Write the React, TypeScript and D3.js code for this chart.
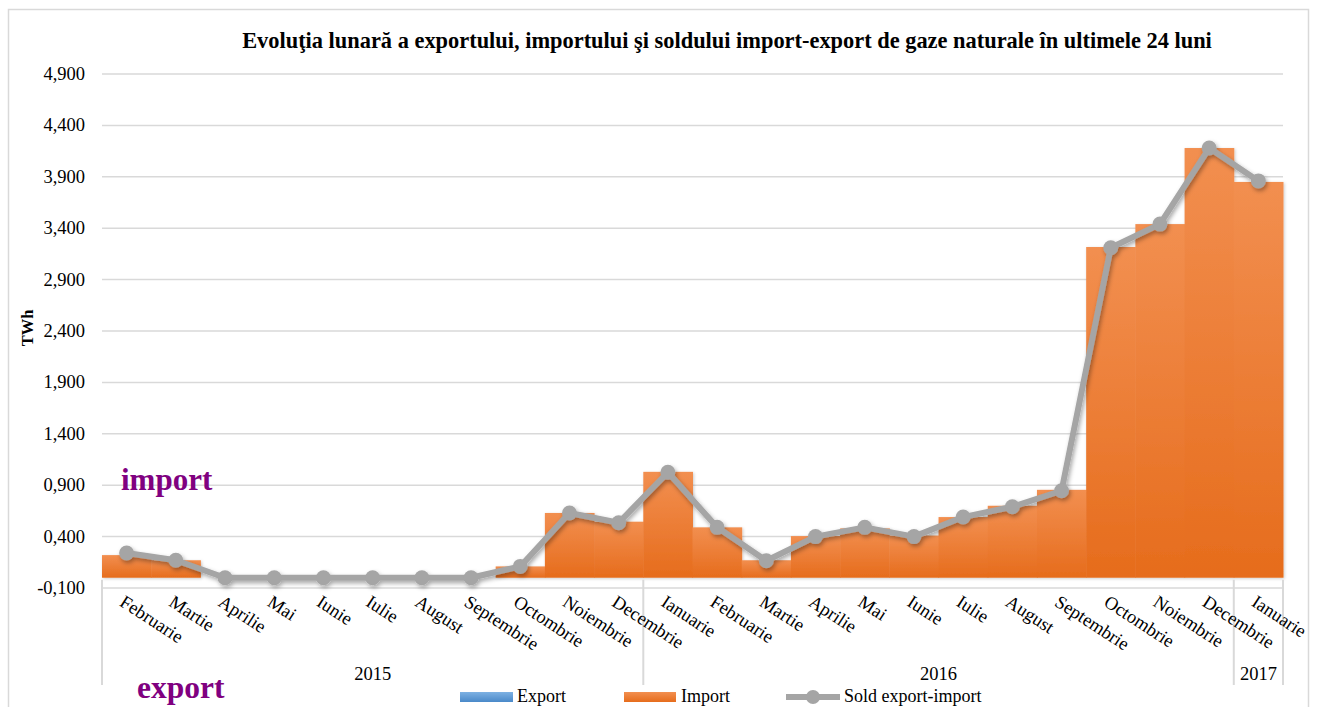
import React from "react";
import * as d3 from "d3";

const months: string[] = [
  "Februarie", "Martie", "Aprilie", "Mai", "Iunie", "Iulie", "August", "Septembrie", "Octombrie", "Noiembrie", "Decembrie",
  "Ianuarie", "Februarie", "Martie", "Aprilie", "Mai", "Iunie", "Iulie", "August", "Septembrie", "Octombrie", "Noiembrie", "Decembrie",
  "Ianuarie",
];
const years: string[] = [
  "2015", "2015", "2015", "2015", "2015", "2015", "2015", "2015", "2015", "2015", "2015",
  "2016", "2016", "2016", "2016", "2016", "2016", "2016", "2016", "2016", "2016", "2016", "2016",
  "2017",
];
const exportVals: number[] = [0, 0, 0, 0, 0, 0, 0, 0, 0, 0, 0, 0, 0, 0, 0, 0, 0, 0, 0, 0, 0, 0, 0, 0];
const importVals: number[] = [0.22, 0.17, 0, 0, 0, 0, 0, 0, 0.11, 0.63, 0.545, 1.03, 0.49, 0.17, 0.405, 0.48, 0.41, 0.59, 0.7, 0.855, 3.217, 3.44, 4.18, 3.85];
const soldVals: number[] = [0.24, 0.17, 0, 0, 0, 0, 0, 0, 0.11, 0.63, 0.535, 1.025, 0.49, 0.165, 0.4, 0.49, 0.4, 0.59, 0.69, 0.846, 3.21, 3.44, 4.18, 3.86];
const yTicks: number[] = [-0.1, 0.4, 0.9, 1.4, 1.9, 2.4, 2.9, 3.4, 3.9, 4.4, 4.9];

const title = "Evoluţia lunară a exportului, importului şi soldului import-export de gaze naturale în ultimele 24 luni";

const W = 1317;
const H = 707;
const left = 102;
const right = 1283;
const yTop = 74;
const yBottom = 588;
const font = "'Liberation Serif', 'Times New Roman', serif";

const locale = d3.formatLocale({ decimal: ",", thousands: ".", grouping: [3], currency: ["", ""], minus: "-" } as any);
const fmt = locale.format(".3f");

export default function App() {
  const idx = months.map((_, i) => i);
  const x = d3.scaleBand<number>().domain(idx).range([left, right]).padding(0);
  const y = d3.scaleLinear().domain([-0.1, 4.9]).range([yBottom, yTop]);
  const bw = x.bandwidth();
  const cx = (i: number) => (x(i) as number) + bw / 2;
  const y0 = y(0);

  const line = d3
    .line<number>()
    .x((_, i) => cx(i))
    .y((d) => y(d));

  const groups: { label: string; start: number; end: number }[] = [];
  years.forEach((yr, i) => {
    const g = groups[groups.length - 1];
    if (g && g.label === yr) g.end = i;
    else groups.push({ label: yr, start: i, end: i });
  });
  const boundaries: number[] = [left, ...groups.map((g) => (x(g.end) as number) + bw)];

  return (
    <svg
      width={W}
      height={H}
      style={{ position: "absolute", left: 0, top: 0, background: "#fff" }}
      fontFamily={font}
    >
      <defs>
        <linearGradient id="impGrad" x1="0" y1="0" x2="0" y2="1">
          <stop offset="0%" stopColor="#F28F50" />
          <stop offset="100%" stopColor="#E66C1C" />
        </linearGradient>
        <linearGradient id="expGrad" x1="0" y1="0" x2="0" y2="1">
          <stop offset="0%" stopColor="#7DB1E3" />
          <stop offset="100%" stopColor="#4A89C9" />
        </linearGradient>
        <filter id="shadow" x="-10%" y="-10%" width="130%" height="130%">
          <feDropShadow dx="1.5" dy="2.5" stdDeviation="2" floodColor="#000" floodOpacity="0.35" />
        </filter>
        <filter id="barShadow" x="-10%" y="-10%" width="130%" height="130%">
          <feDropShadow dx="1" dy="1" stdDeviation="1.5" floodColor="#000" floodOpacity="0.2" />
        </filter>
      </defs>

      <rect x={8.5} y={9.5} width={1300} height={720} fill="#fff" stroke="#D9D9D9" strokeWidth={1.5} />

      <text x={727} y={48} textAnchor="middle" fontWeight="bold" fontSize={22.4} fill="#000">
        {title}
      </text>

      {yTicks.map((t) => (
        <line key={"g" + t} x1={left} x2={right} y1={y(t)} y2={y(t)} stroke="#D9D9D9" strokeWidth={1.5} />
      ))}

      {yTicks.map((t) => (
        <text key={"t" + t} x={85} y={y(t) + 6} textAnchor="end" fontSize={18.5} fill="#000">
          {fmt(t)}
        </text>
      ))}

      <text
        transform={`translate(33,328) rotate(-90)`}
        textAnchor="middle"
        fontWeight="bold"
        fontSize={16.5}
        fill="#000"
      >
        TWh
      </text>

      <g filter="url(#barShadow)">
        {importVals.map((v, i) => (
          <rect
            key={"b" + i}
            x={x(i) as number}
            y={Math.min(y(v), y0)}
            width={bw + 0.5}
            height={Math.abs(y0 - y(v))}
            fill="url(#impGrad)"
          />
        ))}
      </g>
      {exportVals.map((v, i) => (
        <rect
          key={"e" + i}
          x={x(i) as number}
          y={y0}
          width={bw}
          height={Math.abs(y(-v) - y0)}
          fill="url(#expGrad)"
        />
      ))}

      <line x1={left} x2={right} y1={y0 + 1} y2={y0 + 1} stroke="#D9D9D9" strokeWidth={3} filter="url(#shadow)" />

      {boundaries.map((bx, i) => (
        <line key={"s" + i} x1={bx} x2={bx} y1={y0 + 2} y2={685} stroke="#D9D9D9" strokeWidth={2} />
      ))}

      <g filter="url(#shadow)">
        <path d={line(soldVals) || ""} fill="none" stroke="#A5A5A5" strokeWidth={6} strokeLinejoin="round" />
        {soldVals.map((v, i) => (
          <circle key={"c" + i} cx={cx(i)} cy={y(v)} r={7.5} fill="#A5A5A5" />
        ))}
      </g>

      {months.map((m, i) => (
        <text
          key={"m" + i}
          transform={`translate(${cx(i) - 8},${605}) rotate(33)`}
          fontSize={18.5}
          fill="#000"
        >
          {m}
        </text>
      ))}

      {groups.map((g) => (
        <text
          key={"y" + g.label + g.start}
          x={((x(g.start) as number) + (x(g.end) as number) + bw) / 2}
          y={680}
          textAnchor="middle"
          fontSize={18.5}
          fill="#000"
        >
          {g.label}
        </text>
      ))}

      <text x={121} y={490} fontSize={31} fontWeight="bold" fill="#800080">
        import
      </text>
      <text x={137} y={698} fontSize={31.5} fontWeight="bold" fill="#800080">
        export
      </text>

      <rect x={460} y={692} width={53} height={10} fill="url(#expGrad)" />
      <text x={517} y={702} fontSize={18} fill="#000">Export</text>
      <rect x={624} y={692} width={52} height={10} fill="url(#impGrad)" />
      <text x={681} y={702} fontSize={18} fill="#000">Import</text>
      <line x1={786} x2={840} y1={697} y2={697} stroke="#A5A5A5" strokeWidth={6} />
      <circle cx={813} cy={697} r={7} fill="#A5A5A5" />
      <text x={844} y={702} fontSize={18} fill="#000">Sold export-import</text>
    </svg>
  );
}
